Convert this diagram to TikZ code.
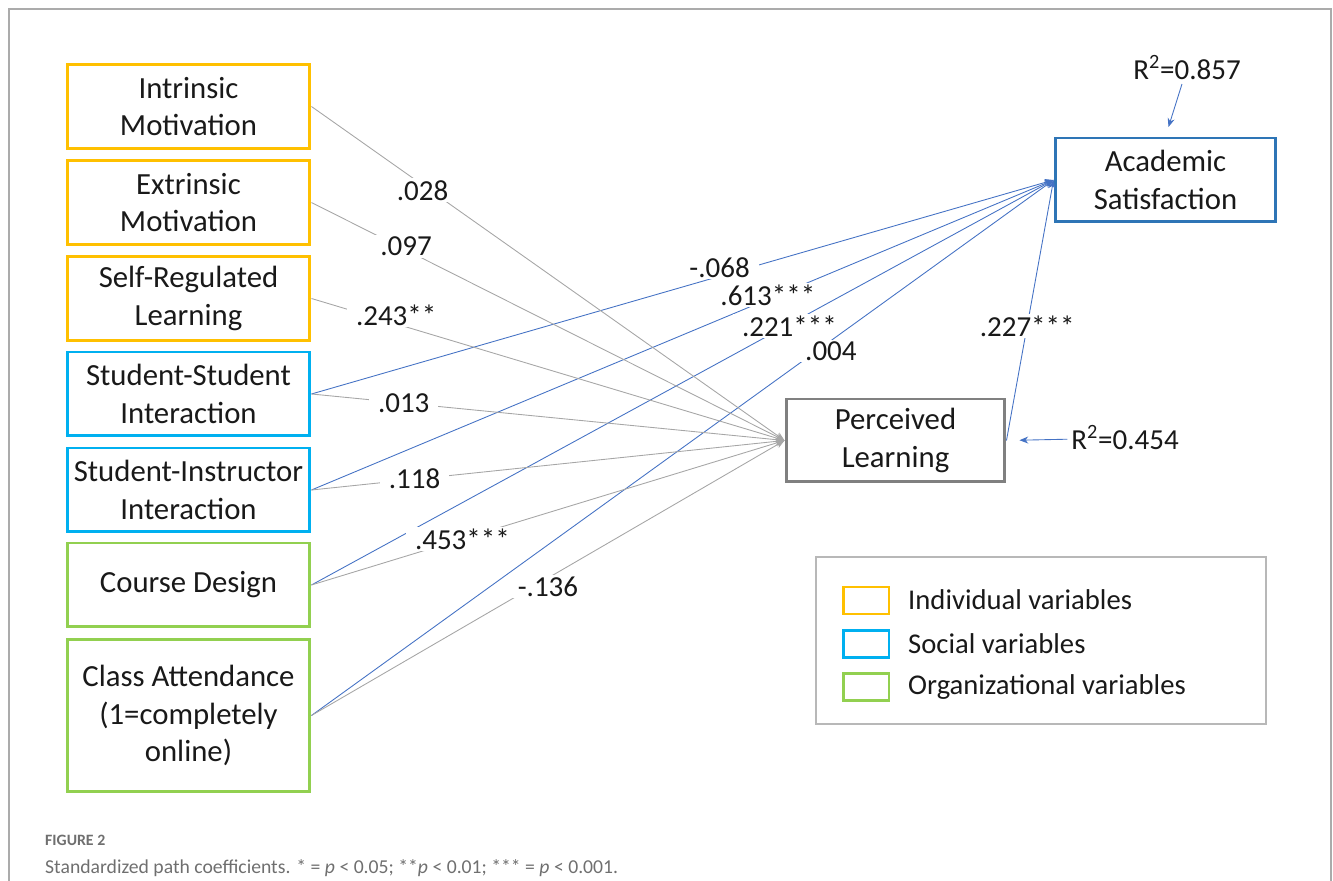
\documentclass[tikz,border=0pt]{standalone}
\usepackage{fontspec}
\setmainfont{Carlito}
\usetikzlibrary{arrows.meta}
\definecolor{indiv}{HTML}{FFC000}
\definecolor{social}{HTML}{00B0F0}
\definecolor{organ}{HTML}{92D050}
\definecolor{satis}{HTML}{2E75B6}
\definecolor{pathblue}{HTML}{4472C4}
\definecolor{pathgray}{HTML}{A6A6A6}
\definecolor{capgray}{HTML}{6F6F6F}

\begin{document}
\begin{tikzpicture}[x=0.02cm,y=-0.02cm,>={Stealth[length=5pt,width=4pt]},
  var/.style={draw,line width=1.7pt,align=center,minimum width=4.86cm,minimum height=1.68cm,
    font=\fontsize{17.5}{21.5}\selectfont,text=black!90},
  toPL/.style={pathgray,line width=0.5pt,->},
  toAS/.style={pathblue,line width=0.5pt,->},
  coef/.style={fill=white,inner xsep=5pt,inner ysep=1pt,text=black!90,font=\fontsize{16.5}{19}\selectfont},
  swatch/.style={draw,line width=1.7pt,minimum width=0.92cm,minimum height=0.54cm,inner sep=0pt},
  keytext/.style={anchor=west,text=black!90,font=\fontsize{16.3}{19}\selectfont}]
\useasboundingbox (0,0) rectangle (1333,881);
\draw[black!33,line width=1.2pt] (9,881) -- (9,9) -- (1331,9) -- (1331,881);

% predictors
\node[var,draw=indiv] (im) at (188.5,106.5) {Intrinsic\\Motivation};
\node[var,draw=indiv] (em) at (188.5,202.5) {Extrinsic\\Motivation};
\node[var,draw=indiv] (srl) at (188.5,298.5) {Self-Regulated\\Learning};
\node[var,draw=social] (ss) at (188.5,394) {Student-Student\\Interaction};
\node[var,draw=social] (si) at (188.5,490) {Student-Instructor\\Interaction};
\node[var,draw=organ] (cd) at (188.5,585) {Course Design};
\node[var,draw=organ,minimum height=3.06cm] (ca) at (188.5,715.5) {Class Attendance\\(1=completely\\online)};

% outcomes
\node[var,draw=black!50,minimum width=4.38cm,minimum height=1.66cm] (pl) at (895.5,440.5) {Perceived\\Learning};
\node[var,draw=satis,minimum width=4.42cm,minimum height=1.68cm] (as) at (1165.5,180) {Academic\\Satisfaction};
\node[coef,inner sep=2pt] (r2as) at (1187,68) {R\textsuperscript{2}=0.857};
\node[coef,inner sep=2pt] (r2pl) at (1125,438) {R\textsuperscript{2}=0.454};

% paths to academic satisfaction
\draw[toAS] (ss.east) -- node[coef,pos=.55,yshift=5pt] {-.068} (as.west);
\draw[toAS] (si.east) -- node[coef,pos=.615,yshift=2.5pt] {.613***} (as.west);
\draw[toAS] (cd.east) -- node[coef,pos=.644,yshift=-1pt] {.221***} (as.west);
\draw[toAS] (ca.east) -- node[coef,pos=.70,yshift=-6pt] {.004} (as.west);
\draw[toAS] (pl.east) -- node[coef,pos=.44] {.227***} (as.west);

% paths to perceived learning
\draw[toPL] (im.east) -- node[coef,pos=.235,yshift=-3pt] {.028} (pl.west);
\draw[toPL] (em.east) -- node[coef,pos=.2,yshift=2pt] {.097} (pl.west);
\draw[toPL] (srl.east) -- node[coef,pos=.179,yshift=5pt] {.243**} (pl.west);
\draw[toPL] (ss.east) -- node[coef,pos=.195] {.013} (pl.west);
\draw[toPL] (si.east) -- node[coef,pos=.218] {.118} (pl.west);
\draw[toPL] (cd.east) -- node[coef,pos=.319] {.453***} (pl.west);
\draw[toPL] (ca.east) -- node[coef,pos=.5,yshift=-5pt] {-.136} (pl.west);

\draw[toAS,shorten >=0.2cm] (r2as) -- (as.north);
\draw[toAS,shorten >=0.26cm] (r2pl) -- (pl.east);

% key
\draw[black!28,line width=1pt] (816,557) rectangle (1266,724);
\node[swatch,draw=indiv] (keyind) at (866,600.5) {};
\node[swatch,draw=social] (keysoc) at (866,644) {};
\node[swatch,draw=organ] (keyorg) at (866,687) {};
\node[keytext] (txtind) at (902,600) {Individual variables};
\node[keytext] (txtsoc) at (902,644) {Social variables};
\node[keytext] (txtorg) at (902,687) {Organizational variables};

% caption
\node[anchor=west,text=capgray,font=\fontsize{9}{11}\bfseries] (fig) at (39,840) {FIGURE 2};
\node[anchor=west,text=capgray,font=\fontsize{11.2}{13}\selectfont] (cap) at (39,868)
  {Standardized path coefficients. * = \textit{p} < 0.05; **\textit{p} < 0.01; *** = \textit{p} < 0.001.};
\end{tikzpicture}
\end{document}
